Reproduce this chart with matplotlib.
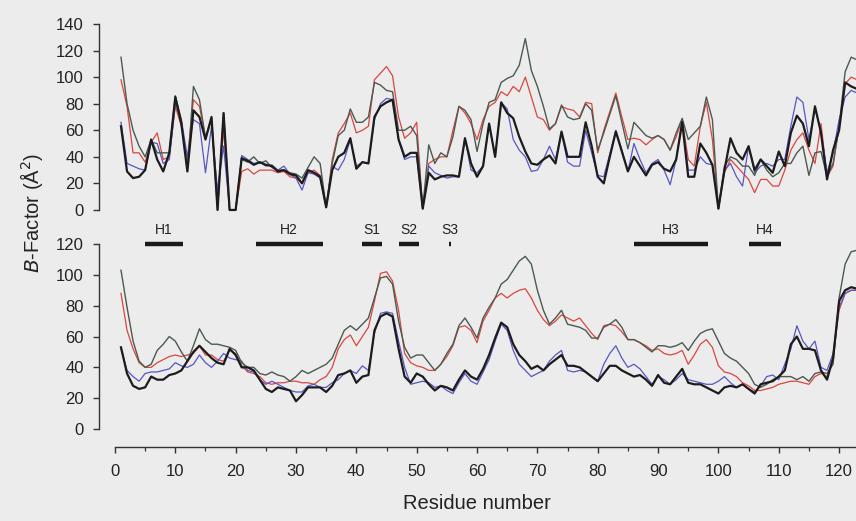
import numpy as np
import matplotlib
matplotlib.use("Agg")
import matplotlib.pyplot as plt

plt.rcParams['font.family'] = ['Liberation Sans', 'DejaVu Sans']

residue = np.arange(1, 124)

# upper panel: B-factors per residue
top_grey = [115, 80, 60, 48, 40, 53, 43, 43, 43, 86, 68, 29, 93, 83, 54, 69, 0, 73, 0, 0,
            38, 36, 40, 35, 37, 32, 30, 30, 28, 27, 24, 32, 40, 35, 2, 35, 56, 60, 76, 66,
            66, 70, 96, 94, 90, 89, 60, 60, 63, 56, 1, 49, 35, 43, 40, 55, 78, 75, 68, 44,
            65, 81, 83, 96, 99, 101, 109, 129, 105, 93, 78, 61, 65, 79, 70, 68, 69, 80, 75, 45,
            58, 72, 86, 66, 46, 66, 61, 56, 54, 56, 53, 45, 58, 69, 53, 58, 63, 85, 68, 1,
            33, 40, 38, 33, 33, 26, 38, 30, 25, 28, 35, 35, 43, 48, 26, 43, 44, 25, 35, 63,
            104, 115, 113]
top_red = [98, 78, 43, 43, 36, 51, 58, 38, 40, 78, 63, 38, 83, 78, 55, 68, 10, 60, 0, 0,
           29, 31, 27, 30, 30, 30, 28, 29, 25, 24, 20, 28, 30, 26, 2, 38, 58, 65, 73, 58,
           60, 63, 98, 103, 108, 101, 70, 54, 58, 66, 1, 35, 38, 40, 40, 60, 78, 73, 65, 53,
           68, 78, 81, 89, 86, 93, 89, 100, 85, 70, 68, 60, 65, 78, 76, 75, 70, 81, 80, 43,
           60, 74, 88, 70, 53, 54, 53, 49, 53, 56, 53, 45, 55, 68, 38, 33, 63, 81, 53, 1,
           28, 38, 33, 28, 23, 13, 23, 23, 18, 18, 30, 45, 53, 58, 45, 35, 65, 25, 33, 63,
           95, 100, 98]
top_blue = [66, 35, 33, 31, 30, 51, 50, 35, 38, 80, 68, 40, 68, 65, 28, 63, 15, 48, 0, 0,
            41, 38, 35, 36, 33, 34, 30, 33, 27, 24, 15, 28, 27, 24, 2, 33, 30, 38, 53, 33,
            36, 35, 68, 80, 84, 83, 53, 38, 40, 40, 1, 33, 28, 26, 24, 25, 25, 54, 30, 28,
            33, 65, 40, 81, 76, 53, 45, 40, 29, 30, 38, 48, 38, 58, 36, 33, 33, 60, 43, 26,
            25, 42, 60, 45, 29, 50, 38, 28, 35, 38, 30, 19, 38, 68, 30, 30, 40, 35, 34, 1,
            30, 35, 25, 18, 48, 28, 33, 35, 33, 38, 38, 63, 85, 81, 53, 76, 60, 28, 43, 68,
            85, 90, 88]
top_black = [63, 29, 24, 25, 30, 53, 38, 29, 43, 85, 65, 29, 75, 70, 53, 70, 0, 73, 0, 0,
             39, 37, 34, 36, 34, 33, 29, 30, 27, 26, 20, 30, 28, 25, 2, 30, 40, 43, 54, 31,
             36, 35, 70, 78, 81, 83, 53, 40, 43, 43, 1, 28, 23, 25, 26, 26, 25, 54, 35, 25,
             33, 65, 40, 81, 73, 69, 55, 44, 35, 34, 38, 41, 35, 59, 40, 40, 40, 66, 48, 25,
             20, 40, 59, 44, 29, 40, 33, 26, 34, 36, 31, 29, 38, 66, 25, 25, 50, 43, 34, 1,
             30, 54, 43, 38, 48, 30, 38, 33, 28, 44, 33, 58, 71, 65, 48, 78, 58, 23, 45, 60,
             96, 93, 91]

# lower panel
bot_grey = [103, 79, 57, 44, 40, 42, 51, 55, 60, 57, 50, 44, 54, 65, 58, 55, 55, 54, 53, 51,
            43, 40, 40, 36, 35, 37, 35, 34, 31, 34, 38, 36, 38, 40, 42, 46, 55, 64, 67, 64,
            68, 72, 85, 98, 99, 94, 70, 53, 46, 48, 48, 43, 38, 42, 49, 55, 67, 72, 66, 59,
            72, 79, 85, 94, 97, 103, 109, 112, 107, 90, 77, 68, 72, 77, 68, 67, 66, 64, 59, 59,
            66, 68, 71, 66, 58, 58, 56, 53, 50, 54, 54, 53, 54, 56, 51, 57, 62, 64, 65, 57,
            49, 46, 44, 40, 36, 29, 27, 29, 32, 34, 34, 34, 32, 34, 31, 36, 37, 36, 42, 85,
            107, 115, 116]
bot_red = [88, 64, 52, 43, 40, 40, 43, 45, 47, 48, 47, 48, 49, 54, 48, 48, 45, 44, 51, 49,
           41, 37, 36, 34, 30, 29, 30, 30, 31, 31, 30, 30, 29, 32, 34, 40, 52, 58, 61, 54,
           60, 66, 83, 101, 102, 96, 77, 49, 43, 41, 40, 38, 38, 42, 47, 54, 66, 67, 64, 56,
           70, 77, 85, 88, 85, 88, 90, 91, 85, 77, 71, 67, 70, 74, 72, 70, 72, 67, 62, 58,
           67, 68, 67, 63, 58, 58, 56, 54, 51, 52, 49, 48, 49, 51, 42, 48, 55, 58, 53, 41,
           37, 36, 34, 30, 28, 25, 25, 26, 27, 29, 30, 31, 31, 30, 29, 34, 36, 34, 46, 77,
           88, 90, 90]
bot_blue = [52, 38, 34, 31, 36, 37, 37, 38, 39, 43, 41, 40, 42, 48, 43, 40, 44, 49, 46, 45,
            44, 38, 37, 32, 29, 31, 29, 27, 25, 24, 24, 28, 29, 27, 27, 30, 32, 36, 38, 36,
            41, 38, 62, 75, 76, 75, 57, 40, 29, 30, 31, 30, 27, 28, 25, 23, 30, 36, 31, 29,
            37, 45, 57, 68, 64, 51, 42, 38, 34, 36, 38, 44, 48, 51, 38, 37, 38, 37, 34, 31,
            42, 49, 54, 46, 40, 42, 39, 34, 29, 34, 32, 29, 32, 36, 32, 31, 30, 29, 29, 31,
            34, 30, 27, 29, 26, 24, 28, 34, 35, 32, 42, 52, 67, 57, 52, 57, 40, 38, 49, 79,
            88, 90, 90]
bot_black = [53, 36, 28, 26, 27, 34, 32, 32, 35, 36, 38, 44, 50, 54, 50, 46, 43, 42, 52, 48,
             40, 40, 38, 32, 26, 24, 27, 26, 25, 18, 22, 27, 27, 27, 24, 28, 35, 36, 38, 30,
             34, 35, 64, 73, 75, 73, 52, 34, 30, 36, 34, 29, 25, 28, 27, 25, 32, 38, 34, 32,
             39, 48, 59, 69, 66, 55, 48, 44, 39, 41, 38, 42, 45, 48, 41, 41, 40, 37, 34, 31,
             36, 41, 41, 38, 36, 34, 35, 32, 28, 35, 30, 29, 34, 39, 30, 29, 29, 27, 25, 23,
             27, 28, 27, 29, 26, 23, 29, 30, 31, 34, 38, 55, 60, 52, 52, 51, 38, 32, 46, 83,
             90, 92, 91]

# secondary structure elements
ss_labels = ['H1', 'H2', 'S1', 'S2', 'S3', 'H3', 'H4']
ss_start = [5.0, 23.3, 40.9, 47.1, 55.3, 86.0, 105.0]
ss_end = [11.2, 34.4, 44.3, 50.4, 55.7, 98.3, 110.4]

bg = '#ececec'
col_grey = '#4a5a50'
col_red = '#d9463e'
col_blue = '#5656c4'
col_black = '#1c1c1c'
txt = '#222222'

fig = plt.figure(figsize=(8.56, 5.21), dpi=100, facecolor=bg)
ax1 = fig.add_axes([0.1343, 0.597, 0.8657, 0.357])
ax2 = fig.add_axes([0.1343, 0.1766, 0.8657, 0.355])

panels = [(ax1, top_grey, top_red, top_blue, top_black, 140),
          (ax2, bot_grey, bot_red, bot_blue, bot_black, 120)]
for ax, g, r, b, k, ymax in panels:
    ax.set_facecolor('none')
    ax.plot(residue, r, color=col_red, lw=0.9, clip_on=False)
    ax.plot(residue, b, color=col_blue, lw=0.9, clip_on=False)
    ax.plot(residue, g, color=col_grey, lw=1.0, clip_on=False)
    ax.plot(residue, k, color=col_black, lw=1.6, clip_on=False)
    ax.set_xlim(0, 122.8)
    ax.set_ylim(0, ymax)
    ax.set_yticks(np.arange(0, ymax + 1, 20))
    for s in ['top', 'right']:
        ax.spines[s].set_visible(False)
    ax.spines['left'].set_position(('outward', 11.5))
    ax.spines['left'].set_bounds(0, ymax)
    ax.spines['left'].set_linewidth(1.0)
    ax.spines['left'].set_color('#333333')
    ax.tick_params(axis='y', length=4.5, width=1.0, color='#333333', pad=6.5,
                   labelsize=12, labelcolor=txt)

ax1.spines['bottom'].set_visible(False)
ax1.tick_params(axis='x', bottom=False, labelbottom=False)

ax2.spines['bottom'].set_position(('outward', 13))
ax2.spines['bottom'].set_bounds(0, 122.8)
ax2.spines['bottom'].set_linewidth(1.0)
ax2.spines['bottom'].set_color('#333333')
ax2.set_xticks(np.arange(0, 121, 10))
ax2.set_xticks(np.arange(5, 121, 10), minor=True)
ax2.tick_params(axis='x', which='major', length=4.5, width=1.0, color='#333333',
                pad=8, labelsize=12, labelcolor=txt)
ax2.tick_params(axis='x', which='minor', length=3, width=0.9, color='#333333')

# secondary structure bars above lower panel
for lab, s, e in zip(ss_labels, ss_start, ss_end):
    ax2.plot([s, e], [120, 120], color='#1a1a1a', lw=3.2, solid_capstyle='butt',
             clip_on=False)
    ax2.text((s + e) / 2, 129, lab, ha='center', va='center', fontsize=10,
             color=txt, clip_on=False)

fig.text(0.037, 0.591, r'$\it{B}$-Factor (Å$^2$)', rotation=90, ha='center',
         va='center', fontsize=14.5, color=txt)
fig.text(477 / 856, 0.034, 'Residue number', ha='center', va='center',
         fontsize=14.5, color=txt)

fig.savefig('out.png', dpi=100, facecolor=bg)
